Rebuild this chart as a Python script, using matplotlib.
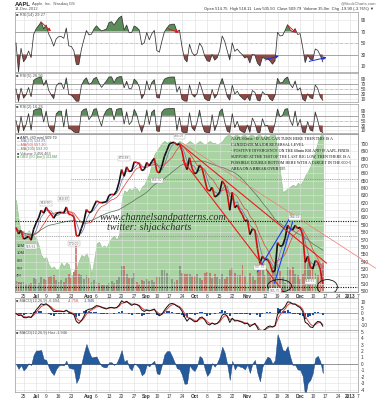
import numpy as np
import pandas as pd
import matplotlib
matplotlib.use("Agg")
import matplotlib.pyplot as plt
from matplotlib.patches import Ellipse
from matplotlib.collections import LineCollection

plt.rcParams['font.family'] = ['Liberation Sans', 'DejaVu Sans']

# ---------------- data ----------------
first_day = "2012-06-20"
last_axis_day = "2013-01-08"
market_holidays = ["2012-07-04", "2012-09-03", "2012-10-29", "2012-10-30",
                   "2012-11-22", "2012-12-25", "2013-01-01"]

# AAPL closes, one per trading day (Jun 20 - Dec 14 2012)
close = [585.98, 577.67, 582.10, 570.77, 572.02, 574.50, 569.05, 584.00,
         592.52, 599.41, 609.94, 605.88, 613.89, 608.21, 604.43, 598.90, 604.97,
         606.91, 606.94, 606.26, 614.32, 604.30, 603.83, 600.92, 574.97, 574.88,
         585.16, 595.03, 610.76,
         606.81, 607.79, 615.70, 622.55, 620.91, 619.86, 620.73, 621.70, 630.00,
         631.69, 630.83, 636.34, 648.11, 665.15, 656.06, 668.87, 662.63, 663.22,
         675.68, 674.80, 673.47, 663.87, 665.24,
         674.97, 670.23, 676.27, 680.44, 662.74, 660.59, 669.79, 682.98, 691.28,
         699.78, 701.91, 702.10, 698.70, 700.09, 690.79, 673.54, 665.18, 681.32,
         667.10,
         659.39, 661.31, 671.45, 666.80, 652.59, 638.17, 635.85, 640.91, 628.10,
         629.71, 634.76, 649.79, 644.61, 632.64, 609.84, 634.03, 613.36, 616.83,
         609.54, 604.00, 595.32,
         596.54, 576.80, 584.62, 582.85, 558.00, 537.75, 547.06, 542.83, 542.90,
         536.88, 525.62, 527.68, 565.73, 560.91, 561.70, 571.50, 589.53, 584.78,
         582.94, 589.36, 585.28,
         586.19, 575.85, 538.79, 547.24, 533.25, 529.82, 541.39, 539.00, 529.69,
         509.79]

# peak hourly volume per day, millions
volume_m = [2.7, 2.5, 2.2, 2.5, 1.8, 1.8, 2.2, 3.5,
            3.2, 2.2, 3.8, 3.2, 3.0, 3.8, 3.9, 4.2, 2.8, 2.5, 2.8, 2.5, 3.3, 4.4,
            3.5, 5.0, 12.0, 4.5, 4.2, 3.2, 4.3,
            3.4, 2.3, 2.9, 2.4, 2.1, 1.5, 1.6, 1.5, 2.2, 2.7, 2.1, 2.8, 3.8, 6.6,
            6.5, 4.5, 3.3, 3.3, 4.8, 2.4, 1.8, 2.8, 2.7,
            3.1, 2.6, 2.9, 2.5, 3.8, 3.8, 5.5, 5.6, 4.7, 4.2, 3.1, 2.5, 2.8, 6.5,
            4.8, 4.6, 4.6, 4.5, 4.0,
            3.9, 4.4, 3.5, 2.8, 4.7, 5.0, 4.8, 3.5, 4.6, 3.8, 3.2, 4.4, 3.2, 3.8,
            5.7, 6.0, 4.8, 4.1, 4.1, 6.8, 4.0,
            2.5, 4.7, 4.0, 3.0, 6.2, 8.2, 7.2, 4.2, 5.3, 4.3, 6.3, 7.5, 7.0, 5.3,
            3.7, 2.1, 6.2, 5.7, 6.4, 4.5, 4.1,
            3.2, 4.4, 8.0, 8.2, 7.5, 6.5, 4.7, 4.2, 5.5, 7.5]

# green volume-flow area (same left scale, millions)
flow_area = [24, 19, 15, 16, 14.5, 16, 15, 14.5,
             14, 12, 9.5, 8.5, 9, 7, 6, 6.5, 5.5, 6, 7.5, 6.5, 7.5, 7, 3.5, 5.5,
             6, 8, 9.5, 9, 10,
             8, 4.5, 8, 12.5, 13, 11.5, 12, 11.5, 13, 14, 14.5, 13.5, 15, 24,
             26.5, 26, 27, 26.5, 27.5, 27, 26, 27.5, 28,
             29.5, 31, 34, 36, 37, 38, 39, 39.5, 39, 39.5, 39, 38.5, 39, 39.5,
             39, 38.5, 39, 39.5, 39,
             38.5, 39, 39.5, 39, 38.5, 39, 39.5, 39, 39, 38.5, 39, 39.5, 40.5,
             41, 41, 40.5, 41, 41, 40.5, 41, 41,
             40.5, 41, 41, 40.5, 41, 41, 40.5, 41, 40.5, 41, 41, 41, 37, 31, 26,
             26.5, 27, 27.5, 28, 27.5, 28.5,
             28, 29, 30.5, 31.5, 33, 35, 37, 39.5, 41, 41]

ma_periods = [20, 50, 200]
legend_lines = ["AAPL (60 min) 509.79", "MA(20) 534.84", "MA(50) 557.20",
                "MA(200) 593.30", "Volume 3,456,463", "OBV (50 (bar)) 1116M"]

tick_dates = ["2012-06-25", "2012-07-02", "2012-07-09", "2012-07-16", "2012-07-23",
              "2012-08-01", "2012-08-06", "2012-08-13", "2012-08-20", "2012-08-27",
              "2012-09-04", "2012-09-10", "2012-09-17", "2012-09-24", "2012-10-01",
              "2012-10-08", "2012-10-15", "2012-10-22", "2012-11-01", "2012-11-12",
              "2012-11-19", "2012-11-26", "2012-12-03", "2012-12-10", "2012-12-17",
              "2012-12-24", "2013-01-02", "2013-01-07"]
tick_labels = ["25", "Jul", "9", "16", "23", "Aug", "6", "13", "20", "27", "Sep",
               "10", "17", "24", "Oct", "8", "15", "22", "Nov", "12", "19", "26",
               "Dec", "10", "17", "24", "2013", "7"]
bold_labels = ["Jul", "Aug", "Sep", "Oct", "Nov", "Dec", "2013"]

price_ticks = list(range(500, 701, 10))
vol_ticks = [2, 4, 6, 8, 10, 12]
rsi_ticks = [10, 30, 50, 70, 90]
macd_ticks = [-10, -5, 0, 5, 10]
hist_ticks = [-4, -3, -2, -1, 0, 1, 2, 3, 4, 5]

# analyst drawings, in (bar index, price)
red_channel = [([65, 123.4], [701, 538]), ([66.3, 106.5], [678, 498])]
red_long = ([66.3, 143.0], [701, 531])
blue_lines = [([96, 108.7], [526, 598]), ([102.8, 110], [511, 594])]
black_levels = [595, 506]
gray_levels = [(575, -0.4), (652, 22)]
ellipses = [(104.8, 507, 9.5, 17), (123.8, 505.5, 8, 20)]
price_marks = [(6, 565.61, "565.61", -1), (12, 613.89, "614.60", 1),
               (19, 619.87, "619.87", 1), (23, 570.00, "570.00", -1),
               (43, 674.88, "674.88", 1), (56, 656.50, "656.50", -1),
               (65, 705.07, "705.07", 1), (97, 537.75, "537.75", -1),
               (103, 505.75, "505.75", -1), (111, 594.59, "594.59", 1),
               (117, 518.63, "518.63", -1)]
rsi_arrows_red = [((9.1, 90), (14.7, 67)), ((59.5, 76), (65.9, 67)),
                  ((107.5, 83), (112.3, 64))]
rsi_arrows_blue = [((98, 19), (105.6, 29)), ((115.5, 17), (124.6, 26))]

note_lines = ["AAPL 60min - IF AAPL CAN TURN HERE THEN THIS IS A",
              "CANDIDATE MAJOR REVERSAL LEVEL",
              "- POSITIVE DIVERGENCE ON THE 60min RSI AND IF AAPL FINDS",
              "SUPPORT AT THE TEST OF THE LAST BIG LOW, THEN THERE IS A",
              "POSSIBLE DOUBLE BOTTOM HERE WITH A TARGET IN THE 600-5",
              "AREA ON A BREAK OVER 595"]

# ---------------- derived ----------------
all_days = pd.bdate_range(first_day, last_axis_day)
all_days = all_days[~all_days.isin(pd.to_datetime(market_holidays))]
day_index = {d.strftime("%Y-%m-%d"): i for i, d in enumerate(all_days)}
n = len(close)
x = np.arange(n)
c = pd.Series(close, dtype=float)
STEP = 3.5  # effective hourly bars per daily point


def rsi(series, period):
    a = min(0.75, 1 - (1 - 1 / period) ** STEP)
    d = series.diff().fillna(0)
    up = d.clip(lower=0).ewm(alpha=a, adjust=False).mean()
    dn = (-d.clip(upper=0)).ewm(alpha=a, adjust=False).mean()
    r = 100 * up / (up + dn)
    return r.fillna(50).values


def ema(series, span):
    a = 1 - (1 - 2 / (span + 1)) ** STEP
    return series.ewm(alpha=a, adjust=False).mean()


rsi14, rsi5, rsi2 = rsi(c, 14), rsi(c, 5), rsi(c, 2)
macd_s = ema(c, 12) - ema(c, 26)
signal_s = macd_s.ewm(alpha=1 - (1 - 2 / 10) ** STEP, adjust=False).mean()
hist = (macd_s - signal_s).values
macd = macd_s.values
signal = signal_s.values
mas = [c.rolling(max(1, round(p / 7)), min_periods=1).mean().values for p in ma_periods]

# ---------------- figure ----------------
W, H = 377, 400
fig = plt.figure(figsize=(W / 100, H / 100), dpi=100)
LEFT, RIGHT = 15, 358
XL = (-0.4, 135.9)
tick_pos = [day_index[d] for d in tick_dates]
TXT = '#333333'
FS = 3.4


def add_ax(top, bottom):
    return fig.add_axes([LEFT / W, 1 - bottom / H, (RIGHT - LEFT) / W, (bottom - top) / H])


def style(ax, yticks, ylim, xlabels=False):
    ax.set_xlim(*XL)
    ax.set_ylim(*ylim)
    for s in ax.spines.values():
        s.set_color('#9a9a9a')
        s.set_linewidth(0.5)
    ax.yaxis.tick_right()
    ax.set_yticks(yticks)
    ax.set_yticklabels([str(t) for t in yticks])
    ax.tick_params(axis='y', length=0, labelsize=FS, pad=2, colors=TXT)
    ax.set_xticks(tick_pos)
    if xlabels:
        ax.set_xticklabels(tick_labels)
        for lab in ax.get_xticklabels():
            if lab.get_text() in bold_labels:
                lab.set_fontweight('bold')
    else:
        ax.set_xticklabels([])
    ax.tick_params(axis='x', length=0, labelsize=FS, pad=1.5, colors=TXT)
    for t in tick_pos:
        ax.axvline(t, color='#dcdcdc', lw=0.4, zorder=0)
    for t in yticks:
        ax.axhline(t, color='#e2e2e2', lw=0.4, zorder=0)


def rsi_panel(ax, vals, label, ylim):
    style(ax, rsi_ticks, ylim)
    ax.axhline(70, color='#8a8a8a', lw=0.5, zorder=1)
    ax.axhline(30, color='#8a8a8a', lw=0.5, zorder=1)
    ax.axhline(50, color='#9a9a9a', lw=0.4, ls=(0, (4, 2, 1, 2)), zorder=1)
    ax.fill_between(x, vals, 70, where=vals >= 70, interpolate=True,
                    color='#5c8c5a', lw=0, zorder=2)
    ax.fill_between(x, vals, 30, where=vals <= 30, interpolate=True,
                    color='#8c4a46', lw=0, zorder=2)
    ax.plot(x, vals, color='#333333', lw=0.55, zorder=3)
    ax.text(0.004, 1 - 1.0 / (ax.get_position().height * H), '\u25a0 ' + label,
            transform=ax.transAxes, fontsize=3.0, color='#555555', va='top', ha='left')


# header
fig.text(15 / W, 1 - 4 / H, 'AAPL', fontsize=4.2, fontweight='bold', color='#222', va='center')
fig.text(32 / W, 1 - 4 / H, 'Apple, Inc.  Nasdaq GS', fontsize=3.0, color='#555', va='center')
fig.text(15 / W, 1 - 9 / H, '14-Dec-2012', fontsize=3.0, color='#555', va='center')
fig.text(376 / W, 1 - 3.5 / H, '@StockCharts.com', fontsize=3.0, color='#666', va='center', ha='right')
fig.text(374 / W, 1 - 9 / H,
         'Open 514.75  High 518.11  Low 505.50  Close 509.79  Volume 35.0m  Chg -19.90 (-3.76%) \u25bc',
         fontsize=3.0, color='#333', va='center', ha='right')

# RSI panels
ax1 = add_ax(12, 72)
rsi_panel(ax1, rsi14, 'RSI(14) 29.27', (-0.4, 103.9))
for (p0, p1) in rsi_arrows_red:
    ax1.annotate('', xy=p1, xytext=p0,
                 arrowprops=dict(arrowstyle='-|>', color='#e8141c', lw=0.7,
                                 mutation_scale=4), zorder=5)
for (p0, p1) in rsi_arrows_blue:
    ax1.annotate('', xy=p1, xytext=p0, annotation_clip=False,
                 arrowprops=dict(arrowstyle='-|>', color='#1630e8', lw=0.7,
                                 mutation_scale=4), zorder=5)

ax2 = add_ax(73, 102)
rsi_panel(ax2, rsi5, 'RSI(5) 26.95', (-2, 114))
ax3 = add_ax(104, 133)
rsi_panel(ax3, rsi2, 'RSI(2) 16.26', (-1, 119))

# price panel: volume axis behind
axv = add_ax(134, 292)
axv.set_xlim(*XL)
axv.set_ylim(-0.26, 41.3)
for s in axv.spines.values():
    s.set_color('#9a9a9a')
    s.set_linewidth(0.5)
axv.set_yticks(vol_ticks)
axv.set_yticklabels([f'{v}M' for v in vol_ticks])
axv.tick_params(axis='y', length=0, labelsize=3.0, pad=-1, colors=TXT)
for lab in axv.get_yticklabels():
    lab.set_horizontalalignment('left')
axv.set_xticks([])
axv.fill_between(x, 0, flow_area, color='#a9d3a2', lw=0.3, edgecolor='#7cb776', zorder=1)
up = np.r_[True, np.diff(close) >= 0]
axv.bar(x[up], np.array(volume_m)[up], width=0.75, color='#6e6e6e', alpha=0.55, zorder=2)
axv.bar(x[~up], np.array(volume_m)[~up], width=0.75, color='#c9605c', alpha=0.75, zorder=2)

axp = add_ax(134, 292)
axp.patch.set_alpha(0)
style(axp, price_ticks, (498.6, 713.6), xlabels=True)
for i, m in enumerate(mas):
    col = ['#6d7bb8', '#e24a4a', '#5f7a5f'][i]
    axp.plot(x, m, color=col, lw=0.55, zorder=3)
segs = [[(i - 1, close[i - 1]), (i, close[i])] for i in range(1, n)]
cols = ['#d01010' if close[i] < close[i - 1] else '#111111' for i in range(1, n)]
axp.add_collection(LineCollection(segs, colors=cols, linewidths=1.2, zorder=4))

for lv in black_levels:
    axp.axhline(lv, color='#111111', lw=0.8, ls=(0, (1, 1.2)), zorder=5)
for lv, start in gray_levels:
    axp.plot([start, XL[1]], [lv, lv], color='#888888', lw=0.6, ls=(0, (1, 1.2)), zorder=2)
for xs, ys in red_channel:
    axp.plot(xs, ys, color='#ec1c1c', lw=0.8, zorder=6)
axp.plot(red_long[0], red_long[1], color='#f07878', lw=0.5, zorder=6, clip_on=False)
for xs, ys in blue_lines:
    axp.plot(xs, ys, color='#1f3cf0', lw=0.8, zorder=6)
for cx, cy, w, h in ellipses:
    axp.add_patch(Ellipse((cx, cy), w, h, fill=False, ec='#111111', lw=0.6, zorder=7))
for xi, pv, txt, side in price_marks:
    axp.annotate(txt, (xi, pv), xytext=(0, 3 * side), textcoords='offset points',
                 fontsize=2.4, color='#666', ha='center', va='center', zorder=8,
                 bbox=dict(boxstyle='square,pad=0.15', fc='white', ec='#aaaaaa', lw=0.3))

# legend lines
leg_cols = ['#333333', '#6d7bb8', '#e24a4a', '#5f7a5f', '#555555', '#4e9a4a']
for k, (t, col) in enumerate(zip(legend_lines, leg_cols)):
    axp.text(0.005, 1 - (1.5 + 3.9 * k) / 158, ('\u25a0 ' if k in (0, 4, 5) else '\u2014') + t,
             transform=axp.transAxes, fontsize=2.7, color=col, va='top', ha='left', zorder=9)

# note text
for k, t in enumerate(note_lines):
    axp.text((231 - LEFT) / (RIGHT - LEFT), 1 - (5.5 + 5.8 * k) / 158, t,
             transform=axp.transAxes, fontsize=2.9, family='Liberation Serif',
             color='#111111', va='center', ha='left', zorder=9)
# watermark
axp.text((100 - LEFT) / (RIGHT - LEFT), 1 - (218 - 134) / 158, 'www.channelsandpatterns.com',
         transform=axp.transAxes, fontsize=7.3, family='Liberation Serif', style='italic',
         color='#2a2a2a', va='center', ha='left', zorder=9)
axp.text((107 - LEFT) / (RIGHT - LEFT), 1 - (228 - 134) / 158, 'twitter: shjackcharts',
         transform=axp.transAxes, fontsize=7.3, family='Liberation Serif', style='italic',
         color='#2a2a2a', va='center', ha='left', zorder=9)

# MACD panel
axm = add_ax(298, 330)
style(axm, macd_ticks, (-14, 13.1))
axm.axhline(0, color='#7a8fb5', lw=0.5, zorder=1)
axm.bar(x, hist, width=0.8, color='#1f4e9a', zorder=2)
axm.plot(x, signal, color='#e24040', lw=0.7, zorder=3)
axm.plot(x, macd, color='#111111', lw=0.7, zorder=4)
axm.text(0.004, 0.97, '\u25a0 MACD(12,26,9) -6.694,', transform=axm.transAxes, fontsize=2.8,
         color='#555', va='top', ha='left')
axm.text(0.155, 0.97, '-4.758,', transform=axm.transAxes, fontsize=2.8, color='#e24040',
         va='top', ha='left')
axm.text(0.2, 0.97, '-1.946', transform=axm.transAxes, fontsize=2.8, color='#1f4e9a',
         va='top', ha='left')

# MACD histogram panel
axh = add_ax(330, 392)
style(axh, hist_ticks, (-4.37, 5.26), xlabels=True)
axh.axhline(0, color='#555555', lw=0.4, zorder=1)
axh.fill_between(x, 0, hist, color='#255a9c', ec='#173f73', lw=0.3, zorder=2)
axh.text(0.004, 0.985, '\u25a0 MACD(12,26,9) Hist -1.946', transform=axh.transAxes,
         fontsize=2.8, color='#555', va='top', ha='left')

fig.savefig('out.png', dpi=100)
